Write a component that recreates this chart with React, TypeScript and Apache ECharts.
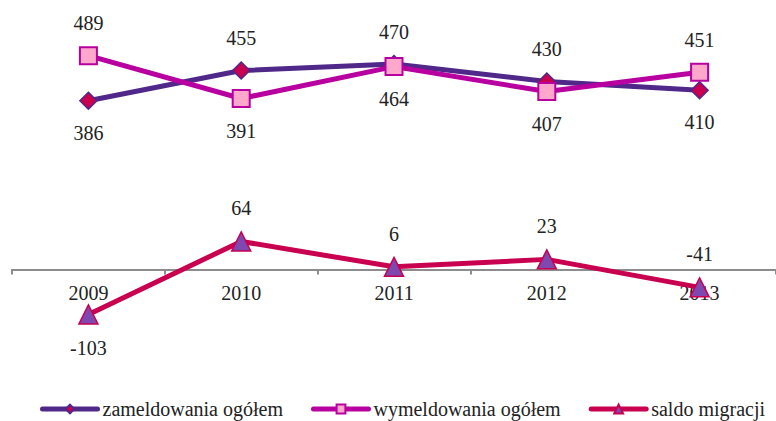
import React, { useEffect, useRef } from "react";
import * as echarts from "echarts";

const years = ["2009", "2010", "2011", "2012", "2013"];
const seriesNames = ["zameldowania ogółem", "wymeldowania ogółem", "saldo migracji"];
const zameldowania = [386, 455, 470, 430, 410];
const wymeldowania = [489, 391, 464, 407, 451];
const saldo = [-103, 64, 6, 23, -41];
const zamPos = ["bottom", "top", "top", "top", "bottom"];
const wymPos = ["top", "bottom", "bottom", "bottom", "top"];
const saldoPos = ["bottom", "top", "top", "top", "top"];

const FONT = "Liberation Serif";
const Y_MIN = -150;
const Y_MAX = 550;
const GRID_TOP = 29;
const GRID_BOTTOM = 86;
const H = 421;

export default function App() {
  const ref = useRef<HTMLDivElement>(null);
  useEffect(() => {
    document.body.style.margin = "0";
    if (!ref.current) return;
    const chart = echarts.init(ref.current, null, { renderer: "svg" });
    const gridH = H - GRID_TOP - GRID_BOTTOM;
    const zeroOffset = -((0 - Y_MIN) / (Y_MAX - Y_MIN)) * gridH;
    const label = {
      show: true,
      fontFamily: FONT,
      fontSize: 20,
      color: "#222",
      distance: 13,
    };
    const mk = (vals: number[], pos: string[]) =>
      vals.map((v, i) => ({ value: v, label: { position: pos[i] } }));
    const legendText = { fontFamily: FONT, fontSize: 20, color: "#222" };
    chart.setOption({
      animation: false,
      textStyle: { fontFamily: FONT },
      grid: { left: 12, right: -6, top: GRID_TOP, bottom: GRID_BOTTOM },
      legend: {
        top: 399,
        left: 40,
        width: 760,
        padding: 0,
        itemWidth: 55,
        itemHeight: 11,
        itemGap: 28,
        lineStyle: { width: 5, cap: "round" },
        textStyle: legendText,
        data: seriesNames.map((n) => ({ name: n, textStyle: legendText })),
      },
      xAxis: {
        type: "category",
        data: years,
        boundaryGap: true,
        offset: zeroOffset,
        axisLine: { onZero: false, lineStyle: { color: "#8c8c8c", width: 2 } },
        axisTick: { show: true, length: 5, lineStyle: { color: "#8c8c8c", width: 2 } },
        axisLabel: { fontFamily: FONT, fontSize: 20, color: "#222", margin: 14 },
        splitLine: { show: false },
      },
      yAxis: {
        type: "value",
        min: Y_MIN,
        max: Y_MAX,
        show: false,
        splitLine: { show: false },
      },
      series: [
        {
          name: seriesNames[0],
          type: "line",
          data: mk(zameldowania, zamPos),
          symbol: "diamond",
          symbolSize: 17,
          lineStyle: { color: "#50288a", width: 5 },
          itemStyle: { color: "#c8004f", borderColor: "#50288a", borderWidth: 1.5 },
          label,
        },
        {
          name: seriesNames[1],
          type: "line",
          data: mk(wymeldowania, wymPos),
          symbol: "rect",
          symbolSize: 17,
          lineStyle: { color: "#b800a0", width: 5 },
          itemStyle: { color: "#ffa8cc", borderColor: "#b800a0", borderWidth: 2 },
          label,
        },
        {
          name: seriesNames[2],
          type: "line",
          data: mk(saldo, saldoPos),
          symbol: "triangle",
          symbolSize: 19,
          lineStyle: { color: "#c8004f", width: 5 },
          itemStyle: { color: "#7e48b0", borderColor: "#c8004f", borderWidth: 1.5 },
          label,
        },
      ],
    });
    return () => chart.dispose();
  }, []);
  return <div ref={ref} style={{ width: 776, height: 421 }} />;
}
